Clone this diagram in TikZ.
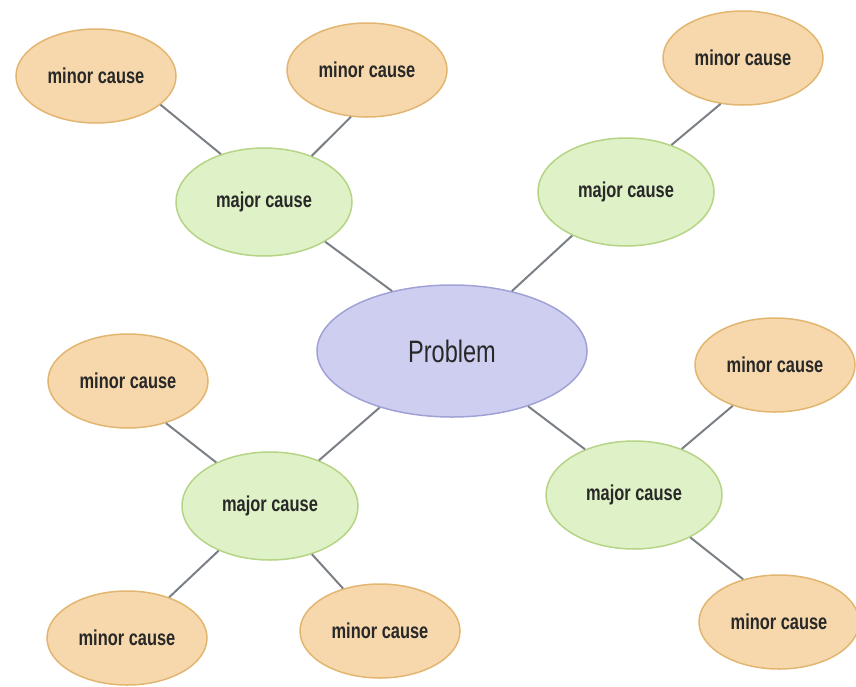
\documentclass[tikz,border=0pt]{standalone}
\usepackage{fontspec}
\setmainfont{Liberation Sans}[FakeStretch=0.76]
\usetikzlibrary{shapes.geometric}
\definecolor{minorfill}{RGB}{246,216,172}
\definecolor{minorline}{RGB}{226,182,112}
\definecolor{majorfill}{RGB}{223,241,198}
\definecolor{majorline}{RGB}{182,212,134}
\definecolor{probfill}{RGB}{206,206,241}
\definecolor{probline}{RGB}{160,162,214}
\definecolor{linkgray}{RGB}{122,128,134}
\definecolor{txt}{RGB}{40,40,40}
\tikzset{
  minor/.style={ellipse, draw=minorline, fill=minorfill, line width=0.75pt,
    minimum width=80pt, minimum height=47pt, inner sep=0pt,
    text=txt, font=\fontsize{10.8}{13}\selectfont\bfseries},
  major/.style={ellipse, draw=majorline, fill=majorfill, line width=0.75pt,
    minimum width=88pt, minimum height=54pt, inner sep=0pt,
    text=txt, font=\fontsize{10.8}{13}\selectfont\bfseries},
  problem/.style={ellipse, draw=probline, fill=probfill, line width=0.75pt,
    minimum width=135pt, minimum height=66pt, inner sep=0pt,
    text=txt, font=\fontsize{15.5}{17}\selectfont},
  link/.style={draw=linkgray, line width=1pt}
}
\begin{document}
\begin{tikzpicture}[x=0.5pt,y=-0.5pt]
\useasboundingbox (0,0) rectangle (856,686);
% centre
\node[problem] (prob) at (452,351) {Problem};
% major causes
\node[major] (majTL) at (264,202) {major cause};
\node[major] (majTR) at (626,192) {major cause};
\node[major] (majBL) at (270,506) {major cause};
\node[major] (majBR) at (634,495) {major cause};
% minor causes
\node[minor] (minTLa) at (96,76) {minor cause};
\node[minor] (minTLb) at (367,70) {minor cause};
\node[minor] (minTR) at (743,58) {minor cause};
\node[minor] (minBLa) at (128,381) {minor cause};
\node[minor] (minBLb) at (127,638) {minor cause};
\node[minor] (minBLc) at (380,631) {minor cause};
\node[minor] (minBRa) at (775,365) {minor cause};
\node[minor] (minBRb) at (779,622) {minor cause};
% links
\draw[link] (prob.135)--(majTL.-33);
\draw[link] (prob.45)--(majTR.-141);
\draw[link] (prob.-142)--(majBL.43);
\draw[link] (prob.-36)--(majBR.137);
\draw[link] (majTL.132)--(minTLa.-24);
\draw[link] (majTL.44)--(minTLb.-109);
\draw[link] (majTR.46)--(minTR.-116);
\draw[link] (majBL.141)--(minBLa.-48);
\draw[link] (majBL.-139)--(minBLb.44);
\draw[link] (majBL.-49)--(minBLc.131);
\draw[link] (majBR.44)--(minBRa.-136);
\draw[link] (majBR.-37)--(minBRb.130);
\end{tikzpicture}
\end{document}
